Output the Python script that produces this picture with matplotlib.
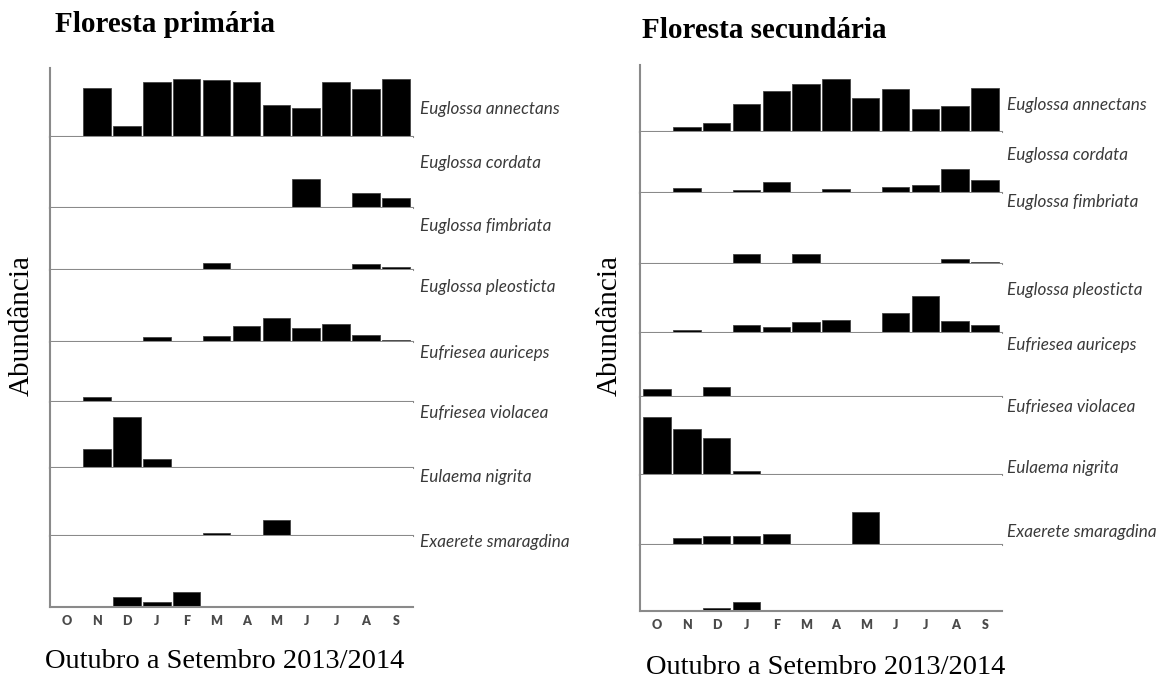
"""Abundância mensal de abelhas Euglossini em floresta primária e secundária."""

import matplotlib

matplotlib.use("Agg")
import matplotlib.pyplot as plt

W, H = 1163, 684

months = ["O", "N", "D", "J", "F", "M", "A", "M", "J", "J", "A", "S"]
species = [
    "Euglossa annectans",
    "Euglossa cordata",
    "Euglossa fimbriata",
    "Euglossa pleosticta",
    "Eufriesea auriceps",
    "Eufriesea violacea",
    "Eulaema nigrita",
    "Exaerete smaragdina",
]

# Abundance per month (O..S) (relative units)
prim_annectans = [0, 49, 11, 55, 58, 57, 55, 32, 29, 55, 48, 58]
prim_cordata = [0, 0, 0, 0, 0, 0, 0, 0, 29, 0, 15, 10]
prim_fimbriata = [0, 0, 0, 0, 0, 7, 0, 0, 0, 0, 6, 3]
prim_pleosticta = [0, 0, 0, 5, 0, 6, 16, 24, 14, 18, 7, 2]
prim_auriceps = [0, 5, 0, 0, 0, 0, 0, 0, 0, 0, 0, 0]
prim_violacea = [0, 19, 51, 9, 0, 0, 0, 0, 0, 0, 0, 0]
prim_nigrita = [0, 0, 0, 0, 0, 3, 0, 16, 0, 0, 0, 0]
prim_smaragdina = [0, 0, 10, 5, 15, 0, 0, 0, 0, 0, 0, 0]

sec_annectans = [0, 5, 9, 28, 41, 48, 53, 34, 43, 23, 26, 44]
sec_cordata = [0, 5, 0, 3, 11, 0, 4, 0, 6, 8, 24, 13]
sec_fimbriata = [0, 1.5, 0, 10, 0, 10, 0, 0, 0, 0, 5, 2]
sec_pleosticta = [0, 3, 0, 8, 6, 11, 13, 0, 20, 37, 12, 8]
sec_auriceps = [8, 0, 10, 0, 0, 0, 0, 0, 0, 0, 0, 0]
sec_violacea = [58, 46, 37, 4, 0, 0, 0, 0, 0, 0, 0, 0]
sec_nigrita = [0, 7, 9, 9, 11, 0, 0, 33, 0, 0, 0, 0]
sec_smaragdina = [0, 0, 3, 9, 0, 0, 0, 0, 0, 0, 0, 0]

primaria = [prim_annectans, prim_cordata, prim_fimbriata, prim_pleosticta,
            prim_auriceps, prim_violacea, prim_nigrita, prim_smaragdina]
secundaria = [sec_annectans, sec_cordata, sec_fimbriata, sec_pleosticta,
              sec_auriceps, sec_violacea, sec_nigrita, sec_smaragdina]

# Layout (pixels): panel box, row spans, species label positions
panels = [
    {
        "title": "Floresta primária", "data": primaria,
        "box": (50, 413, 68, 607), "spans": [69, 71, 62, 72, 60, 66, 68, 71],
        "title_xy": (55, 24), "ylabel_xy": (22, 326), "xlabel_xy": (225, 662),
        "label_x": 420,
        "label_y": [109, 163, 226, 287, 353, 413, 477, 542],
    },
    {
        "title": "Floresta secundária", "data": secundaria,
        "box": (640, 1002, 65, 611), "spans": [67, 61, 71, 69, 64, 78, 70, 66],
        "title_xy": (642, 30), "ylabel_xy": (610, 325), "xlabel_xy": (826, 668),
        "label_x": 1007,
        "label_y": [105, 155, 202, 290, 345, 407, 468, 532],
    },
]

SERIF = "Liberation Serif"
AXIS_GREY = "#8a8a8a"

fig = plt.figure(figsize=(W / 100, H / 100), dpi=100)


def fx(px):
    return px / W


def fy(py):
    return 1 - py / H


for panel in panels:
    left, right, top, bottom = panel["box"]
    gs = fig.add_gridspec(
        len(species), 1, height_ratios=panel["spans"], hspace=0,
        left=fx(left), right=fx(right), top=fy(top), bottom=fy(bottom),
    )
    for i, values in enumerate(panel["data"]):
        ax = fig.add_subplot(gs[i])
        ax.bar(range(len(months)), values, width=0.92, color="black",
               edgecolor="#444444", linewidth=0.6)
        ax.set_xlim(-0.57, len(months) - 0.43)
        ax.set_ylim(0, panel["spans"][i])
        for side in ("top", "right"):
            ax.spines[side].set_visible(False)
        for side in ("left", "bottom"):
            ax.spines[side].set_color(AXIS_GREY)
            ax.spines[side].set_linewidth(1.5)
        ax.set_yticks([])
        ax.set_xticks(range(len(months)))
        ax.tick_params(axis="x", length=0)
        if i == len(species) - 1:
            ax.set_xticklabels(months, fontsize=9, fontweight="heavy",
                               family="Lato", color="#4a4a4a")
            ax.tick_params(axis="x", pad=6)
        else:
            ax.set_xticklabels([])

        fig.text(fx(panel["label_x"]), fy(panel["label_y"][i]), species[i],
                 fontsize=12.3, style="italic", family="Lato", color="#3a3a3a",
                 ha="left", va="center")

    tx, ty = panel["title_xy"]
    fig.text(fx(tx), fy(ty), panel["title"], fontsize=21, fontweight="bold",
             family=SERIF, ha="left", va="center")
    lx, ly = panel["ylabel_xy"]
    fig.text(fx(lx), fy(ly), "Abundância", fontsize=21, family=SERIF,
             rotation=90, ha="center", va="center")
    bx, by = panel["xlabel_xy"]
    fig.text(fx(bx), fy(by), "Outubro a Setembro 2013/2014", fontsize=20.5,
             family=SERIF, ha="center", va="center")

fig.savefig("out.png", dpi=100)
